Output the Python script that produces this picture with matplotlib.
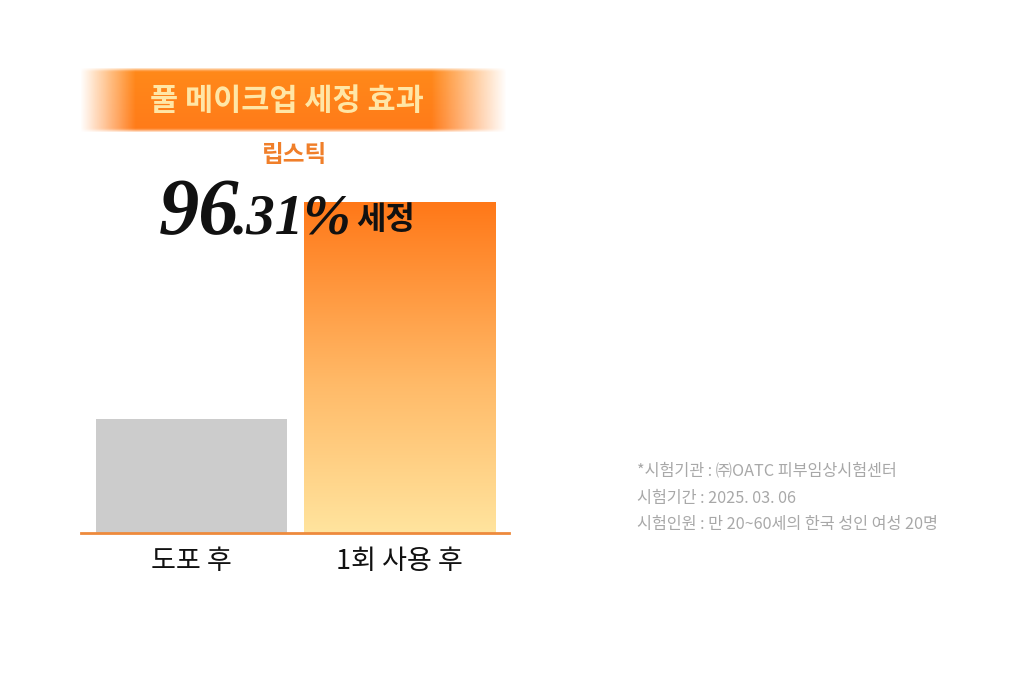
import numpy as np
import matplotlib
matplotlib.use("Agg")
import matplotlib.pyplot as plt
from matplotlib.colors import LinearSegmentedColormap

plt.rcParams['font.family'] = ['Noto Sans CJK KR', 'DejaVu Sans']

# ---- data ----
categories = ["도포 후", "1회 사용 후"]
values = [34.4, 100.0]
title_text = "풀 메이크업 세정 효과"
product_label = "립스틱"
result_major = "96"
result_minor = ".31%"
result_suffix = "세정"
notes = ["*시험기관 : ㈜OATC 피부임상시험센터",
         "시험기간 : 2025. 03. 06",
         "시험인원 : 만 20~60세의 한국 성인 여성 20명"]

W, H = 1020, 700
fig = plt.figure(figsize=(W / 100, H / 100), dpi=100)
fig.patch.set_facecolor("white")

def fx(px):
    return px / W

def fy(py):
    return 1 - py / H

# main axes
ax = fig.add_axes([fx(81), fy(533), fx(509) - fx(81), fy(202) - fy(533)])
ax.set_xlim(-0.531, 1.526)
ax.set_ylim(0, 100)
ax.axis("off")

xpos = np.arange(len(categories))
bw = 0.918
bars = ax.bar(xpos, values, width=bw, color=["#CCCCCC", "none"], zorder=2)

# gradient fill for the second bar
cmap = LinearSegmentedColormap.from_list(
    "og", [(0.0, "#FFE49E"), (0.45, "#FFBA68"), (1.0, "#FF7818")])
grad = np.linspace(0, 1, 256).reshape(-1, 1)
b = bars[1]
im = ax.imshow(grad, cmap=cmap, origin="lower", aspect="auto",
               extent=[b.get_x(), b.get_x() + b.get_width(), 0, b.get_height()],
               zorder=1)
im.set_clip_path(b)
ax.set_xlim(-0.531, 1.526)
ax.set_ylim(0, 100)

# baseline
ax.axhline(0, color="#EE8A3C", lw=2, zorder=3, clip_on=False)

# category labels
for x, c in zip(xpos, categories):
    ax.text(x, -8.6, c, ha="center", va="center", fontsize=19.5, color="#111111")

# banner
bax = fig.add_axes([fx(78), fy(133), fx(507) - fx(78), fy(67) - fy(133)])
bax.axis("off")
nx, ny = 400, 60
xs = np.linspace(78, 507, nx)
ys = np.linspace(0, 1, ny)
alpha_x = np.clip((xs - 80) / 55, 0, 1) * np.clip((507 - xs) / 75, 0, 1)
alpha_y = np.clip(ys / 0.06, 0, 1) * np.clip((1 - ys) / 0.06, 0, 1)
rgba = np.zeros((ny, nx, 4))
rgba[..., 0] = 1.0
rgba[..., 1] = 0.48 + 0.06 * (1 - ys[:, None])
rgba[..., 2] = 0.10
rgba[..., 3] = alpha_y[:, None] * alpha_x[None, :]
bax.imshow(rgba, aspect="auto", extent=[0, 1, 0, 1])
bax.set_xlim(0, 1)
bax.set_ylim(0, 1)

fig.text(fx(287), fy(101), title_text, ha="center", va="center",
         fontsize=22, fontweight="bold", color="#FFE6A6")

fig.text(fx(295), fy(155), product_label, ha="center", va="center",
         fontsize=17, fontweight="bold", color="#F07F2A")

serif = ["Liberation Serif", "DejaVu Serif"]
fig.text(fx(159), fy(234), result_major, ha="left", va="baseline",
         fontsize=58, fontweight="bold", fontstyle="italic", family=serif,
         color="#111111", zorder=5)
fig.text(fx(233), fy(234), result_minor, ha="left", va="baseline",
         fontsize=41, fontweight="bold", fontstyle="italic", family=serif,
         color="#111111", zorder=5)
fig.text(fx(356), fy(220), result_suffix, ha="left", va="center",
         fontsize=23, fontweight="bold", color="#111111", zorder=5)

for i, n in enumerate(notes):
    fig.text(fx(637), fy(471 + 27 * i), n, ha="left", va="center",
             fontsize=11.7, color="#A8A8A8", fontweight="light")

fig.savefig("out.png", dpi=100, facecolor="white")
